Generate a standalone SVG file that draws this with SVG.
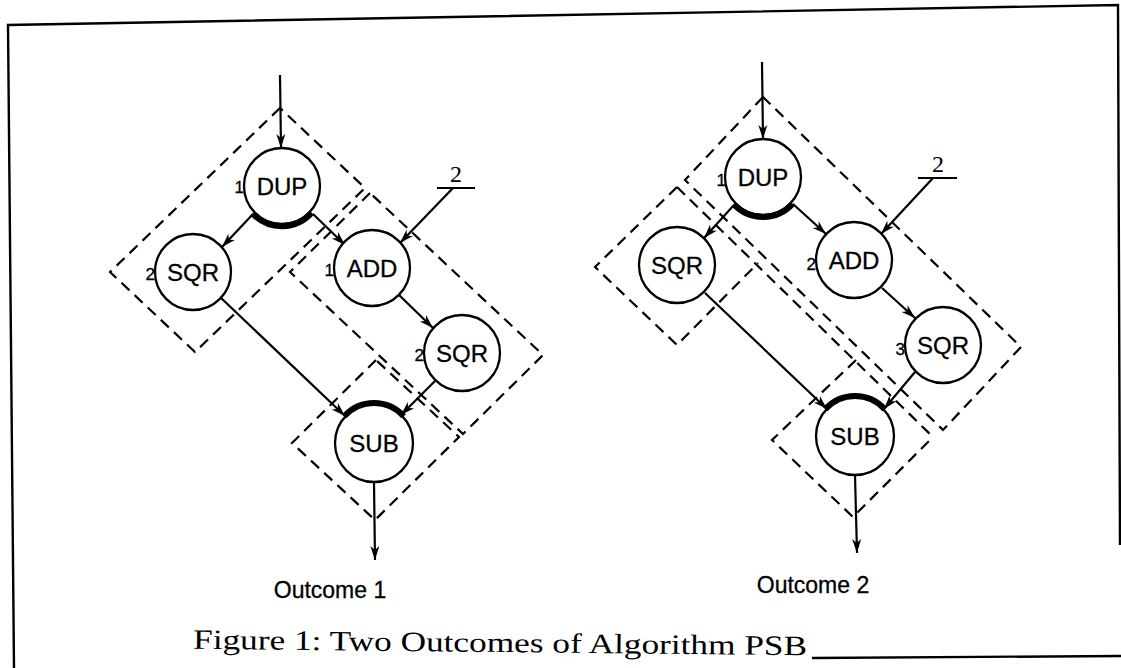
<svg xmlns="http://www.w3.org/2000/svg" width="1121" height="668" viewBox="0 0 1121 668">
<style>
.frame{fill:none;stroke:#000;stroke-width:2.4}
.node{fill:#fff;stroke:#000;stroke-width:2.3}
.lbl{font-family:"Liberation Sans",Arial,sans-serif;font-size:24px;text-anchor:middle;fill:#000;stroke:#000;stroke-width:0.3}
.num{font-family:"Liberation Sans",Arial,sans-serif;font-size:17px;text-anchor:end;fill:#000;stroke:#000;stroke-width:0.3}
.src{font-family:"Liberation Serif","Times New Roman",serif;font-size:24px;text-anchor:middle;fill:#000}
.out{font-family:"Liberation Sans",Arial,sans-serif;font-size:23px;text-anchor:middle;fill:#000;stroke:#000;stroke-width:0.3}
.cap{font-family:"Liberation Serif","Times New Roman",serif;font-size:28px;fill:#000}
.edge{fill:none;stroke:#000;stroke-width:2.2;marker-end:url(#ah)}
.plain{fill:none;stroke:#000;stroke-width:2.2}
.gate{fill:none;stroke:#000;stroke-width:6}
.part{fill:none;stroke:#000;stroke-width:2.2;stroke-dasharray:11 7}
</style>
<defs>
<marker id="ah" markerWidth="16" markerHeight="12" refX="14" refY="6" orient="auto" markerUnits="userSpaceOnUse" viewBox="0 0 16 12">
<path d="M0,1.5 L14,6 L0,10.5 L4,6 Z" fill="#000"/>
</marker>
</defs>
<rect width="1121" height="668" fill="#fff"/>

<g id="frame">
<path class="frame" d="M14,668 L8,25 L1118,5 L1120,545"/>
<path class="frame" d="M812,658 L1121,656"/>
</g>

<g id="partitions">
<!-- Outcome 1 -->
<path class="part" d="M280,108 L110,272 L195,352 L365,188 Z"/>
<path class="part" d="M370,193 L290,272 L463,434 L543,355 Z"/>
<path class="part" d="M376,360 L292,443 L375,520 L459,437 Z"/>
<!-- Outcome 2 -->
<path class="part" d="M763,97 L685,180 L943,430 L1021,347 Z"/>
<path class="part" d="M677,187 L595,267 L677,345 L758,263"/>
<path class="part" d="M677,187 L933,437"/>
<path class="part" d="M856,360 L772,440 L853,517 L933,437"/>
</g>

<g id="connectors">
<!-- Outcome 1 -->
<line class="edge" x1="280" y1="75" x2="281" y2="148"/>
<line class="edge" x1="253" y1="214" x2="222" y2="247"/>
<line class="edge" x1="313" y1="214" x2="345" y2="245"/>
<line class="edge" x1="453" y1="188" x2="400" y2="243"/>
<line class="edge" x1="399" y1="295" x2="433" y2="328"/>
<line class="edge" x1="220" y1="297" x2="345" y2="416"/>
<line class="edge" x1="435" y1="381" x2="401" y2="415"/>
<line class="edge" x1="374" y1="482" x2="375" y2="560"/>
<!-- Outcome 2 -->
<line class="edge" x1="762" y1="62" x2="763" y2="139"/>
<line class="edge" x1="734" y1="205" x2="704" y2="238"/>
<line class="edge" x1="793" y1="204" x2="826" y2="234"/>
<line class="edge" x1="933" y1="178" x2="881" y2="234"/>
<line class="edge" x1="882" y1="288" x2="915" y2="318"/>
<line class="edge" x1="705" y1="293" x2="827" y2="409"/>
<line class="edge" x1="915" y1="372" x2="884" y2="409"/>
<line class="edge" x1="855" y1="475" x2="857" y2="553"/>
</g>

<!-- Outcome 1 nodes -->
<g id="o1-dup">
<circle class="node" cx="282" cy="186" r="38"/>
<path class="gate" d="M252.5,213.5 A40,40 0 0 0 311.7,212.8"/>
<text class="lbl" x="282" y="195">DUP</text>
<text class="num" x="244" y="193">1</text>
</g>
<g id="o1-sqr-a">
<circle class="node" cx="193" cy="272" r="38"/>
<text class="lbl" x="193" y="281">SQR</text>
<text class="num" x="155" y="280">2</text>
</g>
<g id="o1-add">
<circle class="node" cx="372" cy="268" r="38"/>
<text class="lbl" x="372" y="277">ADD</text>
<text class="num" x="334" y="276">1</text>
</g>
<g id="o1-sqr-b">
<circle class="node" cx="462" cy="353" r="38"/>
<text class="lbl" x="462" y="362">SQR</text>
<text class="num" x="424" y="361">2</text>
</g>
<g id="o1-sub">
<circle class="node" cx="374" cy="443" r="39"/>
<path class="gate" d="M344.3,416.2 A40,40 0 0 1 403.7,416.2"/>
<text class="lbl" x="374" y="452">SUB</text>
</g>
<g id="o1-const">
<text class="src" x="456" y="182">2</text>
<line class="plain" x1="437" y1="188" x2="475" y2="188"/>
</g>
<g id="o1-caption">
<text class="out" x="330" y="598">Outcome 1</text>
</g>

<!-- Outcome 2 nodes -->
<g id="o2-dup">
<circle class="node" cx="763" cy="177" r="38"/>
<path class="gate" d="M733.7,204.3 A40,40 0 0 0 792.7,203.8"/>
<text class="lbl" x="763" y="186">DUP</text>
<text class="num" x="726" y="186">1</text>
</g>
<g id="o2-sqr-a">
<circle class="node" cx="677" cy="265" r="38"/>
<text class="lbl" x="677" y="274">SQR</text>
</g>
<g id="o2-add">
<circle class="node" cx="854" cy="260" r="38"/>
<text class="lbl" x="854" y="269">ADD</text>
<text class="num" x="816" y="270">2</text>
</g>
<g id="o2-sqr-b">
<circle class="node" cx="943" cy="345" r="38"/>
<text class="lbl" x="943" y="354">SQR</text>
<text class="num" x="905" y="355">3</text>
</g>
<g id="o2-sub">
<circle class="node" cx="855" cy="436" r="39"/>
<path class="gate" d="M825.3,409.2 A40,40 0 0 1 884.7,409.2"/>
<text class="lbl" x="855" y="445">SUB</text>
</g>
<g id="o2-const">
<text class="src" x="938" y="172">2</text>
<line class="plain" x1="918" y1="178" x2="957" y2="178"/>
</g>
<g id="o2-caption">
<text class="out" x="813" y="593">Outcome 2</text>
</g>

<g id="figure-caption">
<text class="cap" x="193" y="652" textLength="614" lengthAdjust="spacingAndGlyphs" transform="rotate(0.6 500 652)">Figure 1: Two Outcomes of Algorithm PSB</text>
</g>
</svg>
